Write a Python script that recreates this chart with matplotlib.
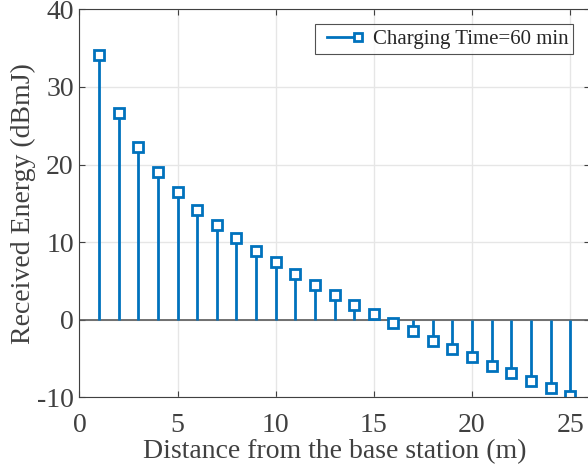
import matplotlib.pyplot as plt
from matplotlib.lines import Line2D

# 거리별 수신 에너지 (stem plot)
distance = list(range(1, 26))
energy = [34.1, 26.7, 22.3, 19.1, 16.5, 14.2, 12.2, 10.55, 8.9, 7.4,
          5.85, 4.5, 3.15, 1.9, 0.73, -0.47, -1.5, -2.76, -3.79, -4.87,
          -5.94, -6.9, -7.9, -8.8, -9.9]
legend_label = 'Charging Time=60 min'

blue = '#0072BD'
dark = '#262626'
gray = '#404040'

plt.rcParams['font.family'] = ['Liberation Serif', 'DejaVu Serif']
plt.rcParams['axes.unicode_minus'] = False

fig = plt.figure(figsize=(5.88, 4.69), dpi=100)
ax = fig.add_axes([0.135, 0.153, 0.868, 0.827])

markerline, stemlines, baseline = ax.stem(distance, energy, basefmt=' ')
plt.setp(stemlines, color=blue, linewidth=2)
plt.setp(markerline, marker='s', markersize=7, markerfacecolor='white',
         markeredgecolor=blue, markeredgewidth=2, color=blue)
ax.axhline(0, color='#5a5a5a', linewidth=1.2, zorder=1)

ax.set_xlim(0, 26)
ax.set_ylim(-10, 40)
ax.set_xticks([0, 5, 10, 15, 20, 25])
ax.set_yticks([-10, 0, 10, 20, 30, 40])
ax.set_xlabel('Distance from the base station (m)', fontsize=20, color=gray, labelpad=1)
ax.set_ylabel('Received Energy (dBmJ)', fontsize=20, color=gray, labelpad=1)
ax.tick_params(direction='in', labelsize=20, colors=gray, top=True, right=True,
               length=4, width=0.8)
ax.tick_params(axis='x', pad=11)
ax.tick_params(axis='y', pad=4)
for s in ax.spines.values():
    s.set_color(gray)
    s.set_linewidth(0.8)
ax.grid(True, color='#e6e6e6', linewidth=1)
ax.set_axisbelow(True)

# 범례: 선 + 오른쪽 끝 마커 (MATLAB 스타일)
proxy = Line2D([], [], color=blue, linewidth=2, marker='s', markersize=6,
               markerfacecolor='white', markeredgecolor=blue, markeredgewidth=2)
leg = ax.legend([proxy], [legend_label], loc='upper right', fontsize=15, frameon=True,
                fancybox=False, edgecolor=dark, borderpad=0.25, handlelength=2.1,
                handletextpad=0.4, numpoints=2, borderaxespad=0,
                bbox_to_anchor=(0.968, 0.962))
leg.get_frame().set_linewidth(0.8)
for ln in leg.get_lines():
    ln.set_markevery([1])
for t in leg.get_texts():
    t.set_color(dark)

plt.savefig('out.png', dpi=100)
